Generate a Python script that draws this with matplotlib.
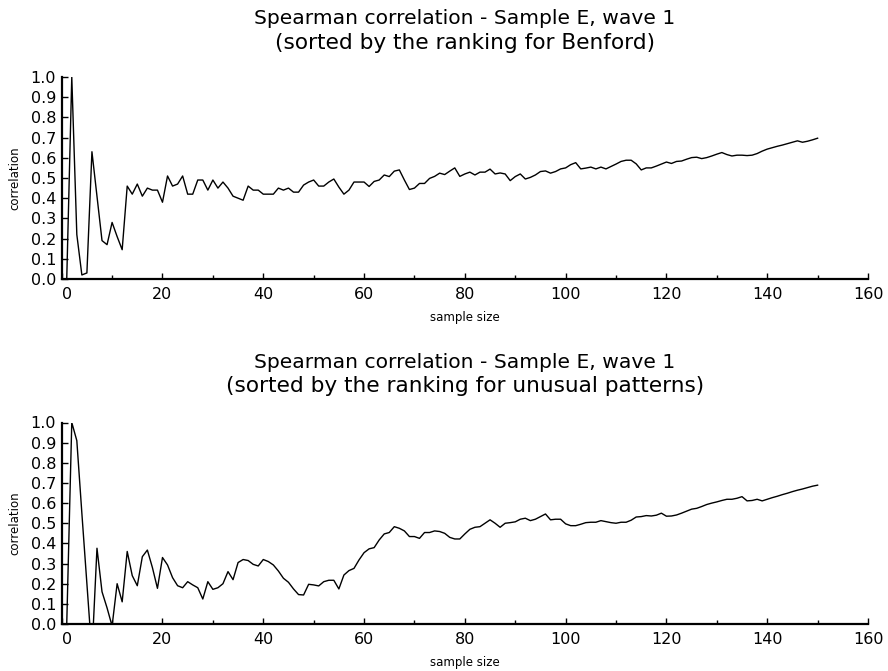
import matplotlib
matplotlib.use("Agg")
import matplotlib.pyplot as plt
from matplotlib.ticker import MultipleLocator, FormatStrFormatter, FuncFormatter

sample_size = list(range(1, 151))

corr_benford = [
    0.0, 1.0, 0.22, 0.02, 0.03, 0.63, 0.41, 0.19, 0.17, 0.28,
    0.21, 0.145, 0.46, 0.42, 0.47, 0.41, 0.45, 0.44, 0.44, 0.38,
    0.51, 0.46, 0.47, 0.51, 0.42, 0.42, 0.49, 0.49, 0.44, 0.49,
    0.45, 0.48, 0.45, 0.41, 0.40, 0.39, 0.46, 0.44, 0.44, 0.42,
    0.42, 0.42, 0.45, 0.44, 0.45, 0.43, 0.43, 0.465, 0.48, 0.49,
    0.46, 0.46, 0.48, 0.495, 0.455, 0.42, 0.44, 0.48, 0.48, 0.48,
    0.458, 0.483, 0.49, 0.515, 0.507, 0.534, 0.54, 0.49, 0.443, 0.45,
    0.473, 0.473, 0.498, 0.508, 0.524, 0.517, 0.534, 0.55, 0.508, 0.52,
    0.529, 0.515, 0.529, 0.529, 0.544, 0.52, 0.525, 0.52, 0.487, 0.507,
    0.52, 0.495, 0.503, 0.515, 0.532, 0.535, 0.524, 0.532, 0.545, 0.55,
    0.566, 0.576, 0.545, 0.549, 0.554, 0.545, 0.554, 0.545, 0.557, 0.569,
    0.582, 0.588, 0.588, 0.57, 0.54, 0.55, 0.55, 0.559, 0.569, 0.579,
    0.572, 0.582, 0.584, 0.593, 0.601, 0.603, 0.596, 0.601, 0.609, 0.618,
    0.626, 0.616, 0.609, 0.613, 0.613, 0.611, 0.613, 0.621, 0.633, 0.643,
    0.65, 0.657, 0.663, 0.67, 0.677, 0.684, 0.677, 0.682, 0.689, 0.697,
]

corr_unusual = [
    0.0, 1.0, 0.91, 0.55, 0.2, -0.15, 0.376, 0.16, 0.08, -0.01,
    0.2, 0.11, 0.36, 0.24, 0.19, 0.334, 0.367, 0.28, 0.177, 0.33,
    0.293, 0.23, 0.19, 0.18, 0.21, 0.194, 0.18, 0.124, 0.21, 0.172,
    0.18, 0.2, 0.26, 0.22, 0.305, 0.32, 0.315, 0.296, 0.288, 0.32,
    0.31, 0.293, 0.263, 0.227, 0.207, 0.174, 0.146, 0.144, 0.197, 0.194,
    0.189, 0.21, 0.217, 0.217, 0.174, 0.243, 0.265, 0.276, 0.318, 0.354,
    0.373, 0.379, 0.417, 0.447, 0.454, 0.483, 0.475, 0.462, 0.434, 0.434,
    0.425, 0.454, 0.454, 0.462, 0.459, 0.45, 0.43, 0.422, 0.422, 0.447,
    0.47, 0.48, 0.483, 0.5, 0.517, 0.5, 0.48, 0.5, 0.503, 0.507,
    0.52, 0.525, 0.513, 0.52, 0.533, 0.546, 0.517, 0.52, 0.52, 0.497,
    0.488, 0.488, 0.495, 0.503, 0.505, 0.505, 0.513, 0.508, 0.503, 0.5,
    0.505, 0.505, 0.515, 0.531, 0.533, 0.538, 0.536, 0.54, 0.55, 0.535,
    0.536, 0.541, 0.55, 0.56, 0.57, 0.574, 0.583, 0.593, 0.6, 0.606,
    0.613, 0.619, 0.619, 0.624, 0.632, 0.611, 0.613, 0.619, 0.611, 0.619,
    0.627, 0.634, 0.642, 0.649, 0.657, 0.664, 0.67, 0.677, 0.684, 0.689,
]

title_line1 = "Spearman correlation - Sample E, wave 1"
subtitles = ["(sorted by the ranking for Benford)",
             "(sorted by the ranking for unusual patterns)"]
xlabel = "sample size"
ylabel = "correlation"

W, H = 888, 671
fig = plt.figure(figsize=(W / 100, H / 100), dpi=100)
fig.patch.set_facecolor("white")

left = 61.7 / W
right = 868.0 / W
panels = [
    (77.0, 279.0, 19.0, 43.0, corr_benford, subtitles[0]),
    (422.5, 624.0, 362.0, 386.0, corr_unusual, subtitles[1]),
]

tick_fs = 11.5
xpad = 6

for top_px, bot_px, t1, t2, series, sub in panels:
    ax = fig.add_axes([left, 1 - bot_px / H, right - left, (bot_px - top_px) / H])
    ax.plot(sample_size, series, color="black", linewidth=1.0)
    ax.set_xlim(0, 160)
    ax.set_ylim(0, 1.0)
    for s in ["top", "right"]:
        ax.spines[s].set_visible(False)
    for s in ["left", "bottom"]:
        ax.spines[s].set_linewidth(1.6)
        ax.spines[s].set_color("black")
    ax.xaxis.set_major_locator(MultipleLocator(20))
    ax.xaxis.set_minor_locator(MultipleLocator(10))
    ax.xaxis.set_major_formatter(FuncFormatter(
        lambda v, p: "" if abs(v) < 1e-9 else "%d" % round(v)))
    ax.yaxis.set_major_locator(MultipleLocator(0.1))
    ax.yaxis.set_major_formatter(FormatStrFormatter("%.1f"))
    ax.tick_params(axis="both", which="major", direction="in", length=4,
                   width=1.0, labelsize=tick_fs, colors="black")
    ax.tick_params(axis="x", which="major", pad=xpad)
    ax.tick_params(axis="y", which="major", pad=4)
    ax.tick_params(axis="x", which="minor", direction="in", length=3, width=1.0)
    # the "0" label sits slightly right of the y axis, as in the original
    ax.annotate("0", xy=(0, 0), xycoords=("data", "axes fraction"),
                xytext=(3.8, -xpad), textcoords="offset points",
                ha="center", va="top", fontsize=tick_fs)
    ax.set_xlabel(xlabel, fontsize=8.5, labelpad=6)
    ax.set_ylabel(ylabel, fontsize=8.5, labelpad=4)
    ax.yaxis.set_label_coords(-40 / ((right - left) * W), 0.5)
    fig.text((left + right) / 2, 1 - t1 / H, title_line1, ha="center",
             va="center", fontsize=14.6)
    fig.text((left + right) / 2, 1 - t2 / H, sub, ha="center",
             va="center", fontsize=15.6)

fig.savefig("out.png", dpi=100, facecolor="white")
